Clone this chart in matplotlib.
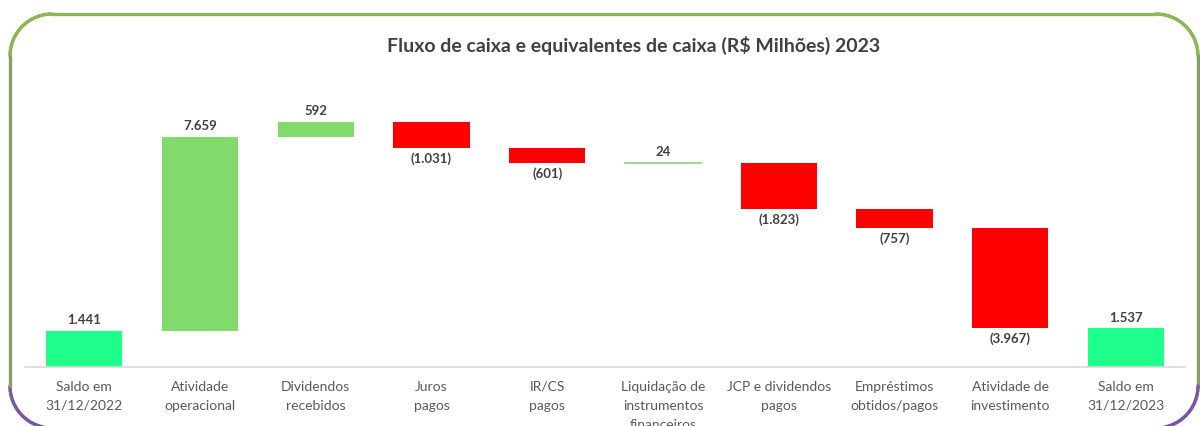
import numpy as np
import matplotlib.pyplot as plt
from matplotlib.collections import LineCollection

categorias = ["Saldo em\n31/12/2022", "Atividade\noperacional", "Dividendos\nrecebidos",
              "Juros\npagos", "IR/CS\npagos", "Liquidação de\ninstrumentos\nfinanceiros",
              "JCP e dividendos\npagos", "Empréstimos\nobtidos/pagos", "Atividade de\ninvestimento",
              "Saldo em\n31/12/2023"]
valores = [1441, 7659, 592, -1031, -601, 24, -1823, -757, -3967, 1537]
tipo = ["total", "delta", "delta", "delta", "delta", "delta", "delta", "delta", "delta", "total"]
rotulos = ["1.441", "7.659", "592", "(1.031)", "(601)", "24", "(1.823)", "(757)", "(3.967)", "1.537"]

cor_total = "#1EFF8C"
cor_pos = "#80DA6C"
cor_neg = "#FF0000"
cor_texto = "#404040"

plt.rcParams['font.family'] = ['Lato', 'DejaVu Sans']

fig = plt.figure(figsize=(12, 4.26), dpi=100)

# moldura arredondada com gradiente verde -> roxo
bg = fig.add_axes([0, 0, 1, 1])
bg.set_xlim(0, 1200)
bg.set_ylim(426, 0)
bg.axis("off")
x0, x1, y0, y1, r = 10, 1198, 14, 428, 42
pts = []
t = np.linspace(0, np.pi / 2, 40)
pts += [(x0 + r - r * np.cos(a), y0 + r - r * np.sin(a)) for a in t]
pts += [(x1 - r + r * np.sin(a), y0 + r - r * np.cos(a)) for a in t]
pts += [(x1 - r + r * np.cos(a), y1 - r + r * np.sin(a)) for a in t]
pts += [(x0 + r - r * np.sin(a), y1 - r + r * np.cos(a)) for a in t]
pts.append(pts[0])
pts = np.array(pts)
segs = np.stack([pts[:-1], pts[1:]], axis=1)
ym = segs[:, :, 1].mean(axis=1)
f = np.clip((ym - 150) / (y1 - 170), 0, 1)[:, None]
verde = np.array([0x8C, 0xB8, 0x52]) / 255
roxo = np.array([0x7A, 0x56, 0xA8]) / 255
cores = verde * (1 - f) + roxo * f
bg.add_collection(LineCollection(segs, colors=cores, linewidths=2.4, capstyle="round"))

ax = fig.add_axes([0.021, 0.1385, 0.9665, 0.6737])

x = np.arange(len(valores))
acumulado = 0
for i, (v, tp) in enumerate(zip(valores, tipo)):
    if tp == "total":
        base, altura, cor = 0, v, cor_total
        acumulado = v
    else:
        if v >= 0:
            base, altura, cor = acumulado, v, cor_pos
        else:
            base, altura, cor = acumulado + v, -v, cor_neg
        acumulado += v
    if abs(v) < 100:
        ax.plot([i - 0.33, i + 0.33], [base + altura, base + altura], color=cor_pos, lw=1.2)
    else:
        ax.bar(i, altura, bottom=base, width=0.66, color=cor)
    if v >= 0:
        ax.text(i, base + altura + 180, rotulos[i], ha="center", va="bottom",
                fontsize=9.5, fontweight="bold", color=cor_texto)
    else:
        ax.text(i, base - 180, rotulos[i], ha="center", va="top",
                fontsize=9.5, fontweight="bold", color=cor_texto)

ax.set_xlim(-0.51, 9.51)
ax.set_ylim(0, 11350)
ax.set_xticks(x)
ax.set_xticklabels(categorias, fontsize=10, color="#595959", linespacing=1.7)
ax.tick_params(axis="x", length=0, pad=10)
ax.set_yticks([])
for s in ["top", "right", "left"]:
    ax.spines[s].set_visible(False)
ax.spines["bottom"].set_color("#D9D9D9")
ax.spines["bottom"].set_linewidth(1.2)

fig.text(0.528, 0.894, "Fluxo de caixa e equivalentes de caixa (R$ Milhões) 2023",
         ha="center", va="center", fontsize=14, fontweight="bold", color=cor_texto)

fig.savefig("out.png", dpi=100)
